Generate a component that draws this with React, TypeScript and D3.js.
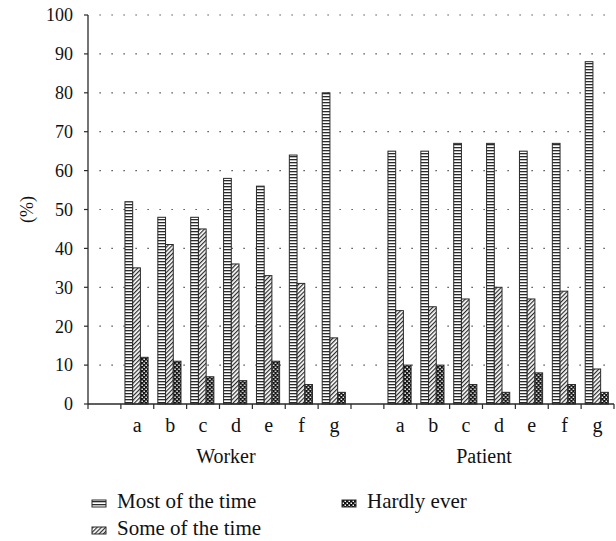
import React from 'react';
import * as d3 from 'd3';

const categories = ['a', 'b', 'c', 'd', 'e', 'f', 'g'];
const groups = ['Worker', 'Patient'];
const seriesNames = ['Most of the time', 'Some of the time', 'Hardly ever'];

const workerMost = [52, 48, 48, 58, 56, 64, 80];
const workerSome = [35, 41, 45, 36, 33, 31, 17];
const workerHardly = [12, 11, 7, 6, 11, 5, 3];

const patientMost = [65, 65, 67, 67, 65, 67, 88];
const patientSome = [24, 25, 27, 30, 27, 29, 9];
const patientHardly = [10, 10, 5, 3, 8, 5, 3];

const yTicks = [0, 10, 20, 30, 40, 50, 60, 70, 80, 90, 100];

const W = 616;
const H = 541;
const margin = { top: 15, right: 2, bottom: 137, left: 88 };
const ink = '#2a2a2a';
const serifFont = 'Liberation Serif';

const patternIds = ['pat-most', 'pat-some', 'pat-hardly'];

// one empty slot before each group, then a..g
const slots = groups.flatMap((g) => [`${g}-`, ...categories.map((c) => `${g}-${c}`)]);

const rows = groups.flatMap((g, gi) =>
  categories.map((c, i) => ({
    key: `${g}-${c}`,
    label: c,
    values: gi === 0
      ? [workerMost[i], workerSome[i], workerHardly[i]]
      : [patientMost[i], patientSome[i], patientHardly[i]],
  }))
);

export default function App() {
  const x = d3.scaleBand<string>().domain(slots).range([margin.left, W - margin.right]).padding(0);
  const inner = d3.scaleBand<number>().domain([0, 1, 2]).range([0, x.bandwidth()])
    .paddingInner(0).paddingOuter(0.63).align(0.42);
  const y = d3.scaleLinear().domain([0, 100]).range([H - margin.bottom, margin.top]);

  const x0 = margin.left;
  const x1 = W - margin.right;
  const yBase = y(0);
  const boundaries = [...slots.map((s) => x(s) as number), x1];

  const groupCenter = (g: string, shift: number) => {
    const a = x(`${g}-a`) as number;
    const last = (x(`${g}-g`) as number) + x.bandwidth();
    return (a + last) / 2 + shift;
  };

  return (
    <div style={{ fontFamily: `'${serifFont}'` }}>
      <svg width={W} height={H} style={{ position: 'absolute', left: 0, top: 0, background: '#fff' }}>
        <style>{`text { font-family: '${serifFont}'; fill: #111; }`}</style>
        <defs>
          <pattern id="pat-most" width={4} height={3} patternUnits="userSpaceOnUse">
            <rect width={4} height={3} fill="#fff" />
            <rect y={0} width={4} height={1.3} fill={ink} />
          </pattern>
          <pattern id="pat-some" width={3} height={3} patternUnits="userSpaceOnUse" patternTransform="rotate(45)">
            <rect width={3} height={3} fill="#fff" />
            <rect x={0} width={1.2} height={3} fill={ink} />
          </pattern>
          <pattern id="pat-hardly" width={4} height={4} patternUnits="userSpaceOnUse">
            <rect width={4} height={4} fill="#111" />
            <rect x={0.5} y={0.5} width={1.5} height={1.5} fill="#fff" />
            <rect x={2.5} y={2.5} width={1.5} height={1.5} fill="#fff" />
          </pattern>
        </defs>

        {/* dotted grid */}
        {yTicks.filter((t) => t > 0).map((t) => (
          <line key={`g${t}`} x1={x0 + 11.5} x2={x1} y1={y(t)} y2={y(t)}
            stroke={ink} strokeWidth={1.2} strokeDasharray="1.2 10.8" />
        ))}

        {/* bars */}
        {rows.map((r) => (
          <g key={r.key} transform={`translate(${x(r.key)},0)`}>
            {r.values.map((v, si) => (
              <rect key={si} x={inner(si)} y={y(v)} width={inner.bandwidth()} height={yBase - y(v)}
                fill={`url(#${patternIds[si]})`} stroke={ink} strokeWidth={1} />
            ))}
          </g>
        ))}

        {/* y axis */}
        <line x1={x0} x2={x0} y1={y(100)} y2={yBase} stroke={ink} strokeWidth={1.3} />
        {yTicks.map((t) => (
          <g key={`y${t}`}>
            <line x1={x0 - 4} x2={x0} y1={y(t)} y2={y(t)} stroke={ink} strokeWidth={1.2} />
            <text x={x0 - 15} y={y(t)} dy="0.35em" textAnchor="end" fontSize={18}>{t}</text>
          </g>
        ))}
        <text transform={`translate(33,${y(50)}) rotate(-90)`} textAnchor="middle" fontSize={18}>(%)</text>

        {/* x axis */}
        <line x1={x0} x2={x1} y1={yBase} y2={yBase} stroke={ink} strokeWidth={1.3} />
        {boundaries.map((b, i) => (
          <line key={`t${i}`} x1={b} x2={b} y1={yBase} y2={yBase + 5} stroke={ink} strokeWidth={1.2} />
        ))}
        {rows.map((r) => (
          <text key={`l${r.key}`} x={(x(r.key) as number) + x.bandwidth() / 2} y={432}
            textAnchor="middle" fontSize={20}>{r.label}</text>
        ))}
        <text x={groupCenter('Worker', -10)} y={463} textAnchor="middle" fontSize={20}>Worker</text>
        <text x={groupCenter('Patient', -15)} y={463} textAnchor="middle" fontSize={20}>Patient</text>

        {/* legend */}
        {seriesNames.map((name, i) => {
          const lx = i === 2 ? 342 : 92;
          const ly = i === 1 ? 535 : 508;
          return (
            <g key={name}>
              <rect x={lx} y={ly - 8} width={14} height={7} fill={`url(#${patternIds[i]})`} stroke={ink} strokeWidth={1} />
              <text x={lx + 25} y={ly} fontSize={21}>{name}</text>
            </g>
          );
        })}
      </svg>
    </div>
  );
}
